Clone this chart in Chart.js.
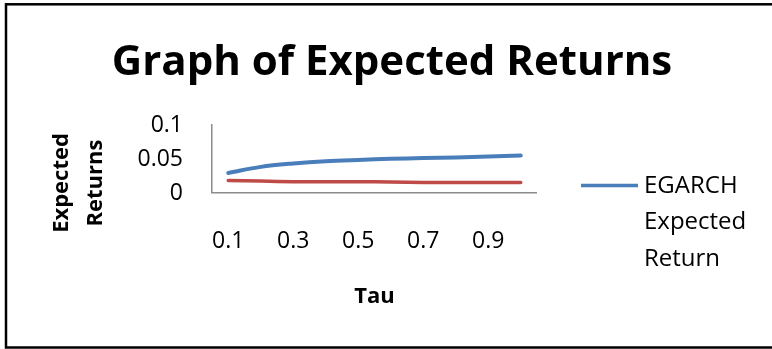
<!DOCTYPE html>
<html>
<head>
<meta charset="utf-8">
<script src="https://cdn.jsdelivr.net/npm/chart.js@4/dist/chart.umd.min.js"></script>
<style>
  html, body { margin: 0; padding: 0; background: #fff; }
  #wrap { width: 772px; height: 349px; position: relative; }
</style>
</head>
<body>
<div id="wrap"><canvas id="c" width="772" height="349"></canvas></div>
<script>
// Quantile levels (tau) along the x axis
const tauLevels = ['0.1', '0.2', '0.3', '0.4', '0.5', '0.6', '0.7', '0.8', '0.9', '1'];
// Expected returns per tau
const egarchReturns = [0.0295, 0.0384, 0.0434, 0.0468, 0.0487, 0.0502, 0.0513, 0.0523, 0.0538, 0.0552];
const garchReturns  = [0.0183, 0.0176, 0.0166, 0.0164, 0.0164, 0.0163, 0.0156, 0.0155, 0.0155, 0.0154];
// Value axis ticks
const yTicks = [0, 0.05, 0.1];

const FONT = '"Open Sans", "Liberation Sans", sans-serif';
const BLUE = '#4A7EBB';
const RED = '#BE4B48';

// Frame, heading, rotated value-axis caption and the legend entry
const decorations = {
  id: 'decorations',
  beforeDraw(chart) {
    const ctx = chart.ctx;
    ctx.save();
    ctx.fillStyle = '#fff';
    ctx.fillRect(0, 0, chart.width, chart.height);
    ctx.strokeStyle = '#000';
    ctx.lineWidth = 2.5;
    ctx.strokeRect(6, 4.3, chart.width + 20, 343.2);
    ctx.restore();
  },
  afterDraw(chart) {
    const ctx = chart.ctx;
    ctx.save();
    ctx.fillStyle = '#000';
    // heading
    ctx.font = 'bold 42px ' + FONT;
    ctx.textAlign = 'center';
    ctx.textBaseline = 'alphabetic';
    ctx.fillText('Graph of Expected Returns', 392, 75);

    // value-axis caption, two rotated lines
    ctx.font = 'bold 22px ' + FONT;
    ctx.textBaseline = 'middle';
    ctx.translate(0, 183);
    ctx.rotate(-Math.PI / 2);
    ctx.fillText('Expected', 0, 62);
    ctx.fillText('Returns', 0, 96);
    ctx.restore();

    // legend entry for the EGARCH series
    const ds = chart.data.datasets[0];
    ctx.save();
    ctx.strokeStyle = ds.borderColor;
    ctx.lineWidth = 3.5;
    ctx.beginPath();
    ctx.moveTo(581, 185.5);
    ctx.lineTo(638, 185.5);
    ctx.stroke();
    ctx.fillStyle = '#000';
    ctx.font = '24px ' + FONT;
    ctx.textAlign = 'left';
    ctx.textBaseline = 'middle';
    const lines = ds.legendLines;
    lines.forEach((t, i) => ctx.fillText(t, 644, 186 + i * 36.5));
    ctx.restore();
  }
};

new Chart(document.getElementById('c'), {
  type: 'line',
  data: {
    labels: tauLevels,
    datasets: [
      {
        label: 'EGARCH Expected Return',
        legendLines: ['EGARCH', 'Expected', 'Return'],
        data: egarchReturns,
        borderColor: BLUE,
        borderWidth: 4,
        pointRadius: 0,
        tension: 0.35,
        borderCapStyle: 'round'
      },
      {
        label: 'GARCH Expected Return',
        data: garchReturns,
        borderColor: RED,
        borderWidth: 3.5,
        pointRadius: 0,
        tension: 0.35,
        borderCapStyle: 'round'
      }
    ]
  },
  options: {
    responsive: false,
    animation: false,
    devicePixelRatio: 1,
    layout: { padding: { top: 125, right: 235, bottom: 0, left: 0 } },
    plugins: {
      legend: { display: false },
      title: { display: false },
      tooltip: { enabled: false }
    },
    scales: {
      x: {
        type: 'category',
        offset: true,
        grid: { color: 'rgba(0,0,0,0)', drawTicks: false, lineWidth: 0 },
        border: { display: true, color: '#8C8C8C', width: 1.5 },
        ticks: {
          autoSkip: false,
          maxRotation: 0,
          padding: 35,
          color: '#000',
          font: { family: FONT, size: 23 },
          callback(value, index) { return index % 2 === 0 ? this.getLabelForValue(value) : ''; }
        },
        title: {
          display: true,
          text: 'Tau',
          color: '#000',
          font: { family: FONT, size: 22, weight: 'bold' },
          padding: { top: 0, bottom: 39 }
        },
        afterFit(scale) { scale.height = 156; }
      },
      y: {
        min: 0,
        max: 0.1,
        grid: { color: 'rgba(0,0,0,0)', drawTicks: false, lineWidth: 0 },
        border: { display: true, color: '#8C8C8C', width: 1.5 },
        afterBuildTicks(scale) { scale.ticks = yTicks.map(v => ({ value: v })); },
        ticks: {
          padding: 29,
          color: '#000',
          font: { family: FONT, size: 23 },
          callback(value) { return String(Number(value.toFixed(2))); }
        },
        afterFit(scale) { scale.width = 212; }
      }
    }
  },
  plugins: [decorations]
});
</script>
</body>
</html>
